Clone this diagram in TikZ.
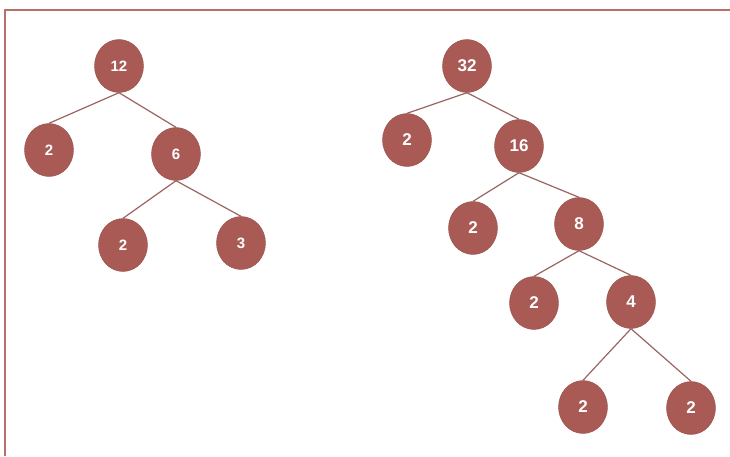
\documentclass[tikz,border=0pt]{standalone}
\usepackage{fontspec}
\setmainfont{Liberation Sans}
\usetikzlibrary{shapes.geometric}
\definecolor{nodefill}{HTML}{A95A55}
\definecolor{edgecol}{HTML}{9C6461}
\definecolor{framecol}{HTML}{B9706A}
\tikzset{
  tn/.style={ellipse, fill=nodefill, draw=nodefill!90!black, line width=0.4pt, minimum width=49pt, minimum height=53pt, inner sep=0pt, text=white, font=\bfseries\fontsize{17}{19}\selectfont},
  tns/.style={tn, font=\bfseries\fontsize{15}{17}\selectfont},
  ed/.style={draw=edgecol, line width=1.2pt}
}
\begin{document}
\begin{tikzpicture}[x=1pt,y=-1pt]
\useasboundingbox (0,0) rectangle (730,456);
\fill[white] (0,0) rectangle (730,456);
\draw[framecol, line width=2pt] (5,456) -- (5,10) -- (730,10);
% left tree
\node[tns] (a) at (119,66) {12};
\node[tns] (b) at (49,150) {2};
\node[tns] (c) at (176,154) {6};
\node[tns] (d) at (123,245) {2};
\node[tns] (e) at (241,243) {3};
% right tree
\node[tn] (f) at (467,66) {32};
\node[tn] (g) at (407,140) {2};
\node[tn] (h) at (519,146) {16};
\node[tn] (i) at (473,228) {2};
\node[tn] (j) at (579,224) {8};
\node[tn] (k) at (534,303) {2};
\node[tn] (l) at (631,302) {4};
\node[tn] (m) at (583,407) {2};
\node[tn] (n) at (691,408) {2};
\draw[ed] (a.south) -- (b.north);
\draw[ed] (a.south) -- (c.north);
\draw[ed] (c.south) -- (d.north);
\draw[ed] (c.south) -- (e.north);
\draw[ed] (f.south) -- (g.north);
\draw[ed] (f.south) -- (h.north);
\draw[ed] (h.south) -- (i.north);
\draw[ed] (h.south) -- (j.north);
\draw[ed] (j.south) -- (k.north);
\draw[ed] (j.south) -- (l.north);
\draw[ed] (l.south) -- (m.north);
\draw[ed] (l.south) -- (n.north);
\end{tikzpicture}
\end{document}
